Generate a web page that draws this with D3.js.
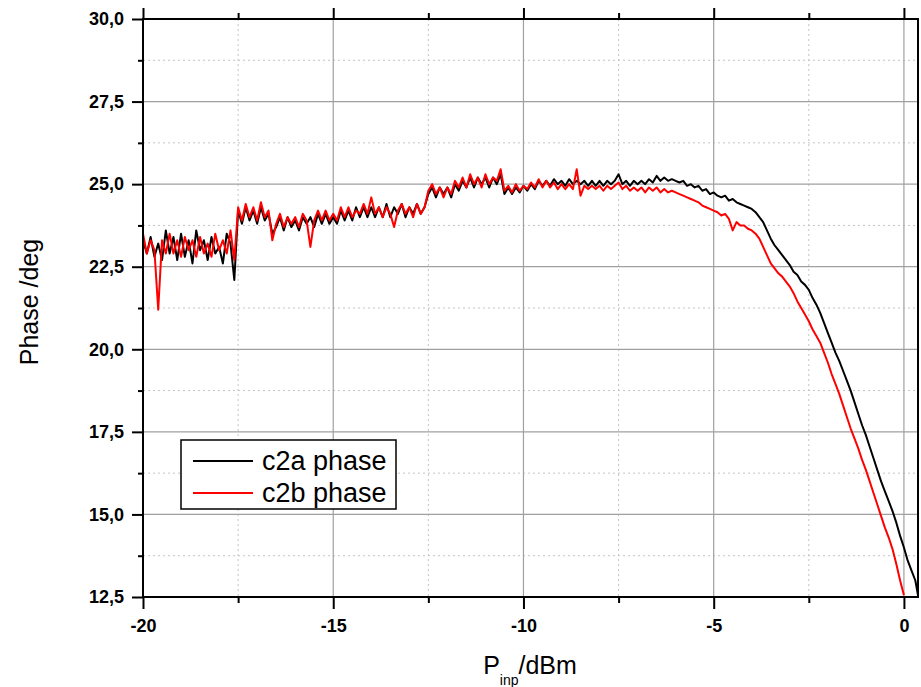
<!DOCTYPE html>
<html><head><meta charset="utf-8">
<script src="https://cdn.jsdelivr.net/npm/d3@7/dist/d3.min.js"></script>
<style>body{margin:0;background:#fff}svg{display:block}</style>
</head><body><svg id="c" width="921" height="687"></svg>
<script>
// ---- data ----
const power = [-20.0,-19.9,-19.8,-19.7,-19.6,-19.5,-19.4,-19.3,-19.2,-19.1,-19.0,-18.9,-18.8,-18.7,-18.6,-18.5,-18.4,-18.3,-18.2,-18.1,-18.0,-17.9,-17.8,-17.7,-17.6,
-17.5,-17.4,-17.3,-17.2,-17.1,-17.0,-16.9,-16.8,-16.7,
-16.6,-16.5,-16.4,-16.3,-16.2,-16.1,-16.0,-15.9,-15.8,-15.7,-15.6,-15.5,-15.4,-15.3,-15.2,-15.1,
-15.0,-14.9,-14.8,-14.7,-14.6,-14.5,-14.4,-14.3,-14.2,-14.1,-14.0,-13.9,-13.8,-13.7,-13.6,-13.5,-13.4,-13.3,-13.2,-13.1,-13.0,-12.9,-12.8,-12.7,-12.6,
-12.5,-12.4,-12.3,-12.2,-12.1,-12.0,-11.9,-11.8,-11.7,-11.6,-11.5,-11.4,-11.3,-11.2,-11.1,-11.0,-10.9,-10.8,-10.7,-10.6,
-10.5,-10.4,-10.3,-10.2,-10.1,-10.0,-9.9,-9.8,-9.7,-9.6,-9.5,-9.4,-9.3,-9.2,-9.1,-9.0,-8.9,-8.8,-8.7,-8.6,
-8.5,-8.4,-8.3,-8.2,-8.1,-8.0,-7.9,-7.8,-7.7,-7.6,-7.5,-7.4,-7.3,-7.2,-7.1,-7.0,-6.9,-6.8,-6.7,-6.6,-6.5,-6.4,-6.3,-6.2,-6.1,
-6.0,-5.9,-5.8,-5.7,-5.6,-5.5,-5.4,-5.3,-5.2,-5.1,-5.0,-4.9,-4.8,-4.7,-4.6,-4.5,-4.4,-4.3,-4.2,-4.1,
-4.0,-3.9,-3.8,-3.7,-3.6,-3.5,-3.4,-3.3,-3.2,-3.1,-3.0,-2.9,-2.8,-2.7,-2.6,-2.5,-2.4,-2.3,-2.2,-2.1,-2.0,-1.9,-1.8,-1.7,-1.6,-1.5,-1.4,-1.3,-1.2,-1.1,-1.0,-0.9,-0.8,-0.7,-0.6,-0.5,-0.4,-0.3,-0.2,-0.1,0.0,0.1,0.2,0.3,0.37];

const c2a = [23.3,22.9,23.4,22.8,23.2,22.7,23.6,22.9,23.4,22.7,23.5,22.8,23.3,22.6,23.6,23.0,23.3,22.7,23.4,22.9,23.1,22.6,23.5,23.2,22.1,
24.2,23.8,24.3,23.9,24.2,23.8,24.3,23.9,24.1,
23.5,23.7,24.0,23.6,24.0,23.7,23.9,23.6,24.0,23.8,24.0,23.7,24.1,23.8,24.1,23.8,
24.0,23.8,24.2,23.9,24.2,23.9,24.3,24.0,24.3,24.0,24.3,24.0,24.3,24.0,24.4,24.0,24.3,24.1,24.4,24.0,24.3,24.1,24.4,24.1,24.3,
24.7,24.9,24.6,24.9,24.7,24.9,24.6,25.0,24.8,25.1,24.9,25.2,24.9,25.2,25.0,25.2,24.9,25.2,25.0,25.3,
24.7,24.9,24.7,24.9,24.75,24.95,24.8,25.0,24.85,25.1,24.95,25.1,24.95,25.15,25.0,25.1,24.95,25.15,25.0,25.1,
25.0,25.1,24.95,25.1,24.95,25.1,24.95,25.1,25.0,25.1,25.3,25.0,25.1,24.95,25.1,25.0,25.1,25.0,25.15,25.05,25.25,25.1,25.2,25.1,25.15,
25.1,25.05,25.1,24.95,25.0,24.9,24.95,24.8,24.85,24.7,24.75,24.65,24.6,24.65,24.5,24.55,24.45,24.4,24.35,24.3,
24.25,24.15,24.0,23.85,23.6,23.35,23.15,23.0,22.85,22.7,22.55,22.35,22.25,22.05,21.95,21.8,21.55,21.35,21.1,20.8,20.5,20.2,19.9,19.65,19.35,19.05,18.75,18.4,18.05,17.7,17.4,17.05,16.7,16.35,16.0,15.7,15.4,15.1,14.75,14.35,14.0,13.6,13.3,13.0,12.55];

const c2b = [23.5,22.9,23.3,23.0,21.2,23.3,22.9,23.5,22.9,23.3,22.8,23.4,23.0,23.3,22.8,23.4,22.9,23.2,22.8,23.5,23.0,23.3,22.9,23.6,22.7,
24.3,23.9,24.4,24.0,24.3,23.9,24.45,24.0,24.2,
23.3,23.8,24.1,23.7,24.0,23.8,24.0,23.7,24.1,23.9,23.1,23.9,24.2,23.9,24.2,23.9,
24.1,23.9,24.3,24.0,24.3,24.0,24.2,24.1,24.4,24.1,24.6,24.1,24.3,24.0,24.3,24.1,23.7,24.2,24.4,24.1,24.3,24.0,24.4,24.1,24.3,
24.8,25.0,24.7,24.9,24.6,24.9,24.7,25.1,24.9,25.2,24.9,25.3,25.0,25.2,24.9,25.3,25.0,25.2,25.1,25.45,
24.8,24.95,24.75,25.0,24.8,24.95,24.85,25.05,24.9,25.15,24.9,25.1,24.9,25.05,24.85,25.0,24.85,25.0,24.85,25.45,
24.65,24.95,24.85,24.95,24.85,24.95,24.8,24.95,24.85,24.95,25.05,24.85,24.95,24.8,24.9,24.8,24.9,24.75,24.9,24.8,24.9,24.75,24.85,24.75,24.8,
24.75,24.7,24.65,24.6,24.55,24.5,24.45,24.35,24.3,24.25,24.2,24.15,24.05,24.1,23.95,23.6,23.85,23.75,23.75,23.65,
23.6,23.5,23.35,23.1,22.85,22.6,22.45,22.3,22.2,22.05,21.9,21.7,21.45,21.25,21.05,20.85,20.6,20.4,20.2,19.9,19.6,19.25,18.95,18.65,18.3,17.95,17.6,17.3,17.0,16.65,16.35,16.0,15.65,15.3,14.95,14.6,14.3,13.95,13.5,13.0,12.55];

const xMajorTicks = [-20, -15, -10, -5, 0];
const xMinorTicks = [-17.5, -12.5, -7.5, -2.5];
const yMajorTicks = [12.5, 15, 17.5, 20, 22.5, 25, 27.5, 30];
const yMinorTicks = [13.75, 16.25, 18.75, 21.25, 23.75, 26.25, 28.75];
const seriesNames = ["c2a phase", "c2b phase"];
const seriesColors = ["#000000", "#ff0000"];

// ---- drawing ----
const svg = d3.select("#c");
const L = 143, R = 918, T = 19, B = 597;
const x = d3.scaleLinear().domain([-20, 0.37]).range([L, R]);
const y = d3.scaleLinear().domain([12.5, 30]).range([B, T]);
const fmtY = d => d.toFixed(1).replace(".", ",");
const fmtX = d => String(d);

// grid
const g = svg.append("g");
g.selectAll(".vmin").data(xMinorTicks).join("line")
  .attr("x1", d => x(d)).attr("x2", d => x(d)).attr("y1", T).attr("y2", B)
  .attr("stroke", "#c4c4c4").attr("stroke-width", 1).attr("stroke-dasharray", "2,3");
g.selectAll(".hmin").data(yMinorTicks).join("line")
  .attr("y1", d => y(d)).attr("y2", d => y(d)).attr("x1", L).attr("x2", R)
  .attr("stroke", "#c4c4c4").attr("stroke-width", 1).attr("stroke-dasharray", "2,3");
g.selectAll(".vmaj").data(xMajorTicks).join("line")
  .attr("x1", d => x(d)).attr("x2", d => x(d)).attr("y1", T).attr("y2", B)
  .attr("stroke", "#a0a0a0").attr("stroke-width", 1.2);
g.selectAll(".hmaj").data(yMajorTicks).join("line")
  .attr("y1", d => y(d)).attr("y2", d => y(d)).attr("x1", L).attr("x2", R)
  .attr("stroke", "#a0a0a0").attr("stroke-width", 1.2);

// series
const line = d3.line().x((d, i) => x(power[i])).y(d => y(d));
const plot = svg.append("g");
plot.append("path").datum(c2a).attr("d", line)
  .attr("fill", "none").attr("stroke", seriesColors[0]).attr("stroke-width", 2).attr("stroke-linejoin", "round");
plot.append("path").datum(c2b).attr("d", line)
  .attr("fill", "none").attr("stroke", seriesColors[1]).attr("stroke-width", 2).attr("stroke-linejoin", "round");

// frame
svg.append("rect").attr("x", L).attr("y", T).attr("width", R - L).attr("height", B - T)
  .attr("fill", "none").attr("stroke", "#000").attr("stroke-width", 2);

// axes
const tickFont = "'Liberation Sans', Arial, sans-serif";
const xb = svg.append("g").attr("transform", `translate(0,${B})`)
  .call(d3.axisBottom(x).tickValues(xMajorTicks).tickSize(12).tickPadding(10).tickFormat(fmtX));
const xbm = svg.append("g").attr("transform", `translate(0,${B})`)
  .call(d3.axisBottom(x).tickValues(xMinorTicks).tickSize(6).tickFormat(""));
const xt = svg.append("g").attr("transform", `translate(0,${T})`)
  .call(d3.axisTop(x).tickValues(xMajorTicks).tickSize(11).tickFormat(""));
const xtm = svg.append("g").attr("transform", `translate(0,${T})`)
  .call(d3.axisTop(x).tickValues(xMinorTicks).tickSize(6).tickFormat(""));
const yl = svg.append("g").attr("transform", `translate(${L},0)`)
  .call(d3.axisLeft(y).tickValues(yMajorTicks).tickSize(11).tickPadding(8).tickFormat(fmtY));
const ylm = svg.append("g").attr("transform", `translate(${L},0)`)
  .call(d3.axisLeft(y).tickValues(yMinorTicks).tickSize(5).tickFormat(""));
[xb, xbm, xt, xtm, yl, ylm].forEach(a => {
  a.select(".domain").remove();
  a.selectAll(".tick line").attr("stroke", "#000").attr("stroke-width", 2);
  a.selectAll(".tick text").attr("fill", "#000").style("font-family", tickFont)
    .style("font-size", "18px").style("font-weight", "bold");
});

// axis titles
svg.append("text").attr("transform", "translate(38,302) rotate(-90)")
  .attr("text-anchor", "middle").style("font-family", tickFont).style("font-size", "25px")
  .text("Phase /deg");
const xtitle = svg.append("text").attr("x", 530).attr("y", 674).attr("text-anchor", "middle")
  .style("font-family", tickFont).style("font-size", "25px");
xtitle.append("tspan").text("P");
xtitle.append("tspan").attr("dy", 11).style("font-size", "14px").text("inp");
xtitle.append("tspan").attr("dy", -11).text("/dBm");

// legend
const lg = svg.append("g");
lg.append("rect").attr("x", 181).attr("y", 440).attr("width", 215).attr("height", 69)
  .attr("fill", "#fff").attr("stroke", "#000").attr("stroke-width", 1.5);
seriesNames.forEach((n, i) => {
  const cy = 461 + i * 32;
  lg.append("line").attr("x1", 193).attr("x2", 253).attr("y1", cy).attr("y2", cy)
    .attr("stroke", seriesColors[i]).attr("stroke-width", 2);
  lg.append("text").attr("x", 262).attr("y", cy + 9).style("font-family", tickFont)
    .style("font-size", "27px").text(n);
});
</script></body></html>
